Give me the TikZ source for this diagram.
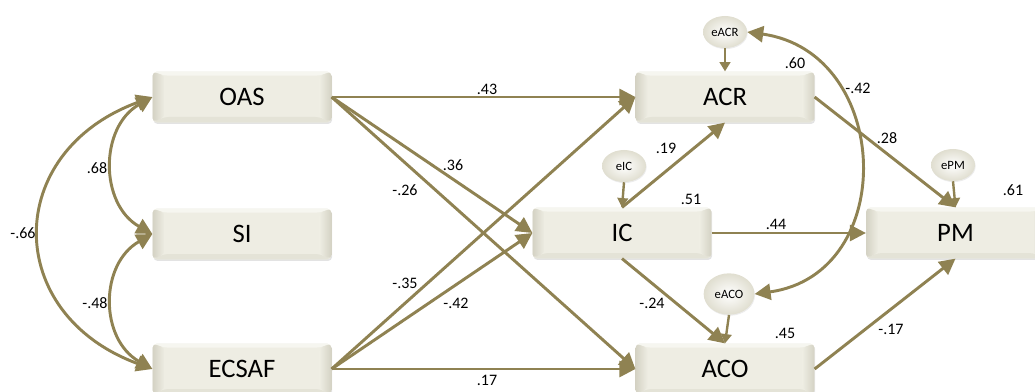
\documentclass[tikz,border=0pt]{standalone}
\usepackage{fontspec}
\setmainfont{Carlito}
\usetikzlibrary{arrows.meta,shadows,shapes.geometric}
\definecolor{semcol}{RGB}{143,130,82}
\definecolor{boxmid}{RGB}{238,237,227}
\definecolor{boxtop}{RGB}{246,246,240}
\definecolor{boxbot}{RGB}{228,227,215}
\definecolor{bevel}{RGB}{212,210,196}
\definecolor{errout}{RGB}{224,222,208}
\begin{document}
\begin{tikzpicture}[x=0.75pt,y=-0.75pt,
  var/.style={rectangle, rounded corners=3pt, minimum width=134pt, minimum height=38pt, inner sep=0pt,
    fill=boxmid,
    path picture={
      \path (path picture bounding box.south west) coordinate (pSW)
            (path picture bounding box.north east) coordinate (pNE);
      \fill[boxtop] (pSW |- pNE) -- (pNE) -- ([shift={(-9pt,-3pt)}]pNE) -- ([shift={(9pt,-3pt)}]pSW |- pNE) -- cycle;
      \fill[boxbot] (pSW) -- (pNE |- pSW) -- ([shift={(-9pt,4pt)}]pNE |- pSW) -- ([shift={(9pt,4pt)}]pSW) -- cycle;
      \shade[left color=bevel, right color=boxmid] (pSW) -- (pSW |- pNE) -- ([shift={(9pt,-3pt)}]pSW |- pNE) -- ([shift={(9pt,4pt)}]pSW) -- cycle;
      \shade[left color=boxmid, right color=bevel] (pNE |- pSW) -- (pNE) -- ([shift={(-9pt,-3pt)}]pNE) -- ([shift={(-9pt,4pt)}]pNE |- pSW) -- cycle;
    },
    font=\fontsize{20}{24}\selectfont,
    drop shadow={opacity=0.22, shadow xshift=0.6pt, shadow yshift=-1.2pt}},
  err/.style={ellipse, inner sep=0pt, minimum width=33pt, minimum height=24pt,
    shading=radial, inner color=white, outer color=errout,
    font=\fontsize{9.5}{11}\selectfont,
    drop shadow={opacity=0.15, shadow xshift=0.5pt, shadow yshift=-0.8pt}},
  pth/.style={draw=semcol, line width=2.2pt, -{Triangle[length=12pt,width=12pt]}},
  cov/.style={draw=semcol, line width=2.2pt, {Triangle[length=12pt,width=12pt]}-{Triangle[length=12pt,width=12pt]}},
  eth/.style={draw=semcol, line width=1.8pt, -{Triangle[length=7pt,width=8pt]}},
  coef/.style={font=\fontsize{12}{14}\selectfont, inner sep=0pt}
]
\useasboundingbox (0,0) rectangle (1035,392);

% variables
\node[var] (OAS) at (242,97) {OAS};
\node[var] (SI) at (242,234) {SI};
\node[var] (ECSAF) at (242,369) {ECSAF};
\node[var] (ACR) at (725,97) {ACR};
\node[var] (IC) at (622,233) {IC};
\node[var] (ACO) at (725,369) {ACO};
\node[var] (PM) at (955.5,233) {PM};

% error terms
\node[err] (eACR) at (725,32) {eACR};
\node[err] (eIC) at (624,166) {eIC};
\node[err, minimum width=38pt, minimum height=31pt] (eACO) at (729,294) {eACO};
\node[err] (ePM) at (953,165) {ePM};

% structural paths
\draw[pth] (OAS.east) -- (ACR.west);
\draw[pth] (OAS.east) -- (IC.west);
\draw[pth] (OAS.east) -- (ACO.west);
\draw[pth] (ECSAF.east) -- (ACR.west);
\draw[pth] (ECSAF.east) -- (IC.west);
\draw[pth] (ECSAF.east) -- (ACO.west);
\draw[pth] (IC.north) -- (ACR.south);
\draw[pth] (IC.east) -- (PM.west);
\draw[pth] (IC.south) -- (ACO.north);
\draw[pth] (ACR.east) -- (PM.north);
\draw[pth] (ACO.east) -- (PM.south);

% error arrows
\draw[eth] (eACR.south) -- (ACR.north);
\draw[eth] (eIC.south) -- (IC.north);
\draw[eth] (eACO.south) -- (ACO.north);
\draw[eth] (ePM.south) -- (PM.north);

% covariances
\draw[cov] (OAS.west) .. controls +(-53,30) and +(-53,-30) .. (SI.west);
\draw[cov] (SI.west) .. controls +(-53,30) and +(-53,-30) .. (ECSAF.west);
\draw[cov] (OAS.west) .. controls +(-150,55) and +(-150,-55) .. (ECSAF.west);
\draw[cov] (eACR.east) .. controls +(145,20) and +(145,-20) .. (eACO.east);

% coefficients
\node[coef] (c1) at (487,89) {.43};
\node[coef] (c2) at (453,165) {.36};
\node[coef] (c3) at (405,190) {-.26};
\node[coef] (c4) at (405,283) {-.35};
\node[coef] (c5) at (456,303) {-.42};
\node[coef] (c6) at (487,380) {.17};
\node[coef] (c7) at (666,148) {.19};
\node[coef] (c8) at (691,199) {.51};
\node[coef] (c9) at (776,224) {.44};
\node[coef] (c10) at (795,63) {.60};
\node[coef] (c11) at (858,88) {-.42};
\node[coef] (c12) at (887,138) {.28};
\node[coef] (c13) at (1013,190) {.61};
\node[coef] (c14) at (652,303) {-.24};
\node[coef] (c15) at (785,333) {.45};
\node[coef] (c16) at (891,329) {-.17};
\node[coef] (c17) at (97,168) {.68};
\node[coef] (c18) at (95,303) {-.48};
\node[coef] (c19) at (23,233) {-.66};
\end{tikzpicture}
\end{document}
